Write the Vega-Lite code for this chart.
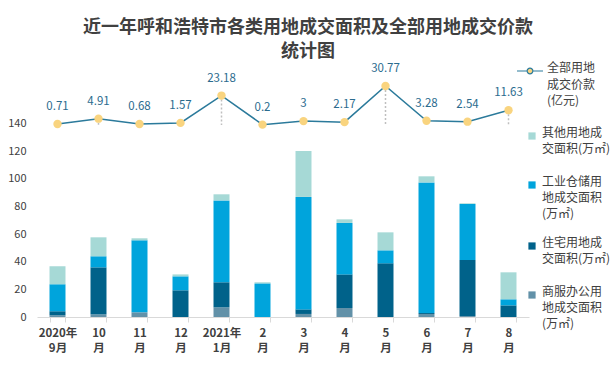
{
  "$schema": "https://vega.github.io/schema/vega-lite/v6.json",
  "width": 492,
  "height": 249,
  "autosize": {"type": "none"},
  "padding": {"left": 37, "top": 68, "right": 85, "bottom": 51},
  "background": "white",
  "title": {
    "text": ["近一年呼和浩特市各类用地成交面积及全部用地成交价款", "统计图"],
    "anchor": "middle",
    "frame": "group",
    "dx": 25,
    "offset": -4,
    "fontSize": 18,
    "fontWeight": "bold",
    "font": "Noto Sans CJK SC",
    "color": "#404040",
    "lineHeight": 24
  },
  "config": {
    "view": {"stroke": null},
    "font": "Noto Sans CJK SC",
    "legend": {"padding": 0, "titlePadding": 0}
  },
  "datasets": {
    "area": [
      {"month": "2020年|9月", "type": "商服办公用地成交面积(万㎡)", "value": 1.2},
      {"month": "2020年|9月", "type": "住宅用地成交面积(万㎡)", "value": 2.9},
      {"month": "2020年|9月", "type": "工业仓储用地成交面积(万㎡)", "value": 19.5},
      {"month": "2020年|9月", "type": "其他用地成交面积(万㎡)", "value": 13.0},
      {"month": "10|月", "type": "商服办公用地成交面积(万㎡)", "value": 1.9},
      {"month": "10|月", "type": "住宅用地成交面积(万㎡)", "value": 34.0},
      {"month": "10|月", "type": "工业仓储用地成交面积(万㎡)", "value": 8.0},
      {"month": "10|月", "type": "其他用地成交面积(万㎡)", "value": 13.7},
      {"month": "11|月", "type": "商服办公用地成交面积(万㎡)", "value": 3.4},
      {"month": "11|月", "type": "住宅用地成交面积(万㎡)", "value": 0},
      {"month": "11|月", "type": "工业仓储用地成交面积(万㎡)", "value": 52.0},
      {"month": "11|月", "type": "其他用地成交面积(万㎡)", "value": 1.5},
      {"month": "12|月", "type": "商服办公用地成交面积(万㎡)", "value": 0},
      {"month": "12|月", "type": "住宅用地成交面积(万㎡)", "value": 19.3},
      {"month": "12|月", "type": "工业仓储用地成交面积(万㎡)", "value": 10.1},
      {"month": "12|月", "type": "其他用地成交面积(万㎡)", "value": 1.4},
      {"month": "2021年|1月", "type": "商服办公用地成交面积(万㎡)", "value": 7.0},
      {"month": "2021年|1月", "type": "住宅用地成交面积(万㎡)", "value": 18.1},
      {"month": "2021年|1月", "type": "工业仓储用地成交面积(万㎡)", "value": 59.2},
      {"month": "2021年|1月", "type": "其他用地成交面积(万㎡)", "value": 4.4},
      {"month": "2|月", "type": "商服办公用地成交面积(万㎡)", "value": 0},
      {"month": "2|月", "type": "住宅用地成交面积(万㎡)", "value": 0},
      {"month": "2|月", "type": "工业仓储用地成交面积(万㎡)", "value": 24.3},
      {"month": "2|月", "type": "其他用地成交面积(万㎡)", "value": 0.8},
      {"month": "3|月", "type": "商服办公用地成交面积(万㎡)", "value": 2.2},
      {"month": "3|月", "type": "住宅用地成交面积(万㎡)", "value": 3.3},
      {"month": "3|月", "type": "工业仓储用地成交面积(万㎡)", "value": 81.3},
      {"month": "3|月", "type": "其他用地成交面积(万㎡)", "value": 33.2},
      {"month": "4|月", "type": "商服办公用地成交面积(万㎡)", "value": 6.5},
      {"month": "4|月", "type": "住宅用地成交面积(万㎡)", "value": 24.3},
      {"month": "4|月", "type": "工业仓储用地成交面积(万㎡)", "value": 37.2},
      {"month": "4|月", "type": "其他用地成交面积(万㎡)", "value": 2.6},
      {"month": "5|月", "type": "商服办公用地成交面积(万㎡)", "value": 0},
      {"month": "5|月", "type": "住宅用地成交面积(万㎡)", "value": 38.8},
      {"month": "5|月", "type": "工业仓储用地成交面积(万㎡)", "value": 9.4},
      {"month": "5|月", "type": "其他用地成交面积(万㎡)", "value": 13.0},
      {"month": "6|月", "type": "商服办公用地成交面积(万㎡)", "value": 2.2},
      {"month": "6|月", "type": "住宅用地成交面积(万㎡)", "value": 0.7},
      {"month": "6|月", "type": "工业仓储用地成交面积(万㎡)", "value": 94.4},
      {"month": "6|月", "type": "其他用地成交面积(万㎡)", "value": 4.4},
      {"month": "7|月", "type": "商服办公用地成交面积(万㎡)", "value": 0.7},
      {"month": "7|月", "type": "住宅用地成交面积(万㎡)", "value": 40.5},
      {"month": "7|月", "type": "工业仓储用地成交面积(万㎡)", "value": 40.5},
      {"month": "7|月", "type": "其他用地成交面积(万㎡)", "value": 0.5},
      {"month": "8|月", "type": "商服办公用地成交面积(万㎡)", "value": 0},
      {"month": "8|月", "type": "住宅用地成交面积(万㎡)", "value": 8.4},
      {"month": "8|月", "type": "工业仓储用地成交面积(万㎡)", "value": 4.4},
      {"month": "8|月", "type": "其他用地成交面积(万㎡)", "value": 19.5}
    ],
    "price": [
      {"month": "2020年|9月", "price": 0.71},
      {"month": "10|月", "price": 4.91},
      {"month": "11|月", "price": 0.68},
      {"month": "12|月", "price": 1.57},
      {"month": "2021年|1月", "price": 23.18},
      {"month": "2|月", "price": 0.2},
      {"month": "3|月", "price": 3},
      {"month": "4|月", "price": 2.17},
      {"month": "5|月", "price": 30.77},
      {"month": "6|月", "price": 3.28},
      {"month": "7|月", "price": 2.54},
      {"month": "8|月", "price": 11.63}
    ]
  },
  "encoding": {
    "x": {
      "field": "month",
      "type": "nominal",
      "sort": null,
      "scale": {"paddingInner": 0.61, "paddingOuter": 0.305},
      "axis": {
        "title": null,
        "labelAngle": 0,
        "labelExpr": "split(datum.label, '|')",
        "labelFontWeight": "bold",
        "labelFontSize": 11.5,
        "labelColor": "#404040",
        "labelLineHeight": 15,
        "labelPadding": 5,
        "tickBand": "extent",
        "tickSize": 5,
        "tickColor": "#d9d9d9",
        "domainColor": "#d9d9d9"
      }
    }
  },
  "layer": [
    {
      "data": {"name": "area"},
      "transform": [
        {"calculate": "indexof(['商服办公用地成交面积(万㎡)','住宅用地成交面积(万㎡)','工业仓储用地成交面积(万㎡)','其他用地成交面积(万㎡)'], datum.type)", "as": "rank"}
      ],
      "mark": {"type": "bar"},
      "encoding": {
        "y": {
          "field": "value",
          "type": "quantitative",
          "stack": "zero",
          "scale": {"domain": [0, 180], "nice": false},
          "axis": {
            "title": null,
            "values": [0, 20, 40, 60, 80, 100, 120, 140],
            "grid": false,
            "domain": false,
            "ticks": false,
            "labelPadding": 11,
            "labelFontSize": 11,
            "labelColor": "#404040"
          }
        },
        "order": {"field": "rank", "type": "quantitative", "sort": "ascending"},
        "color": {
          "field": "type",
          "type": "nominal",
          "scale": {
            "domain": ["其他用地成交面积(万㎡)", "工业仓储用地成交面积(万㎡)", "住宅用地成交面积(万㎡)", "商服办公用地成交面积(万㎡)"],
            "range": ["#a6d9d6", "#00a4dc", "#00628a", "#6291a8"]
          },
          "legend": {
            "title": null,
            "orient": "none",
            "legendX": 489,
            "legendY": 45,
            "symbolType": "square",
            "symbolSize": 52,
            "labelOffset": 4,
            "labelFontSize": 12,
            "labelColor": "#404040",
            "labelBaseline": "top",
            "labelLimit": 200,
            "clipHeight": 46,
            "rowPadding": 3,
            "labelExpr": "({'其他用地成交面积(万㎡)': ['其他用地成', '交面积(万㎡)'], '工业仓储用地成交面积(万㎡)': ['工业仓储用', '地成交面积', '(万㎡)'], '住宅用地成交面积(万㎡)': ['住宅用地成', '交面积(万㎡)'], '商服办公用地成交面积(万㎡)': ['商服办公用', '地成交面积', '(万㎡)']})[datum.label]",
            "encode": {"labels": {"update": {"dy": {"value": -8}, "lineHeight": {"value": 16}}}}
          }
        }
      }
    },
    {
      "data": {"name": "price"},
      "encoding": {
        "y": {
          "field": "price",
          "type": "quantitative",
          "scale": {"domain": [-152, 45], "nice": false, "zero": false},
          "axis": null
        }
      },
      "layer": [
        {
          "mark": {"type": "rule", "stroke": "#bfbfbf", "strokeWidth": 1.5, "strokeDash": [2, 2]},
          "encoding": {"y2": {"datum": 0}}
        },
        {
          "mark": {"type": "line", "strokeWidth": 1.5},
          "encoding": {
            "stroke": {
              "datum": "全部用地成交价款(亿元)",
              "type": "nominal",
              "scale": {"range": ["#2b7a9b"]},
              "legend": {
                "title": null,
                "orient": "none",
                "legendX": 479,
                "legendY": -11,
                "symbolType": "M-1,0H-0.22M0.22,0H1M-0.22,0A0.22,0.22,0,1,0,0.22,0A0.22,0.22,0,1,0,-0.22,0Z",
                "symbolSize": 676,
                "symbolStrokeWidth": 1.2,
                "symbolFillColor": "#f9d47f",
                "labelOffset": 3,
                "labelFontSize": 12,
                "labelColor": "#404040",
                "labelBaseline": "top",
                "labelLimit": 200,
                "labelExpr": "['全部用地', '成交价款', '(亿元)']",
                "encode": {"labels": {"update": {"dy": {"value": -8}, "lineHeight": {"value": 16.5}}}, "symbols": {"update": {"fill": {"value": "#f9d47f"}, "stroke": {"value": "#2b7a9b"}}}}
              }
            }
          }
        },
        {
          "mark": {"type": "point", "filled": true, "size": 70, "color": "#f9d47f", "opacity": 1}
        },
        {
          "mark": {"type": "text", "dy": -17, "fontSize": 11.5, "color": "#2b6b8e"},
          "encoding": {"text": {"field": "price", "type": "quantitative"}}
        }
      ]
    }
  ],
  "resolve": {"scale": {"y": "independent"}}
}
